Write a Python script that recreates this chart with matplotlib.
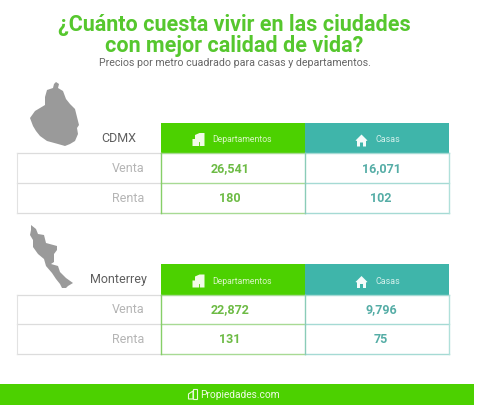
import matplotlib
matplotlib.use("Agg")
import matplotlib.pyplot as plt
from matplotlib.patches import Rectangle, Polygon

plt.rcParams['font.family'] = ['Roboto', 'DejaVu Sans']

title_lines = ["¿Cuánto cuesta vivir en las ciudades", "con mejor calidad de vida?"]
subtitle = "Precios por metro cuadrado para casas y departamentos."
cities = ["CDMX", "Monterrey"]
columns = ["Departamentos", "Casas"]
rows = ["Venta", "Renta"]
cdmx_values = ["26,541", "16,071", "180", "102"]
monterrey_values = ["22,872", "9,796", "131", "75"]
footer = "Propiedades.com"

GREEN = "#4cd100"
TEAL = "#3fb5aa"
TITLE_GREEN = "#56c72e"
VAL_GREEN = "#6dbb45"
VAL_TEAL = "#55ada6"
GRAY = "#9a9a9a"

cdmx_shape = [(56,82),(59,84),(58,88),(63,91),(66,99),(70,104),(75,109),(77,117),(79,125),(77,128),(78,134),(75,141),
              (70,144),(65,146),(58,144),(47,141),(40,136),(36,131),(33,126),(30,118),(35,111),(45,105),(45,97),(47,90),(53,88),(54,84)]
mty_shape = [(31,225),(36,229),(38,234),(44,235),(46,243),(57,246),(57,250),(54,254),(54,262),(51,264),(58,266),
             (60,272),(66,278),(73,283),(68,286),(66,288),(62,288),(60,284),(56,279),(52,273),(46,266),(44,259),
             (38,254),(33,247),(33,240),(30,235),(31,230)]

fig = plt.figure(figsize=(4.79, 4.05), dpi=100)
ax = fig.add_axes([0, 0, 1, 1])
ax.set_xlim(0, 479)
ax.set_ylim(405, 0)
ax.axis("off")

ax.text(234.5, 25, title_lines[0], ha="center", va="center", fontsize=15.5, fontweight="bold", color=TITLE_GREEN)
ax.text(234.5, 46, title_lines[1], ha="center", va="center", fontsize=15.5, fontweight="bold", color=TITLE_GREEN)
ax.text(234.5, 62.5, subtitle, ha="center", va="center", fontsize=7.7, color="#666666")


def building(x, y, c="#f2fbe8"):
    ax.add_patch(Polygon([(x, y + 13), (x, y + 6), (x + 2.5, y + 6), (x + 2.5, y + 2), (x + 7, y),
                          (x + 12, y), (x + 12, y + 13)], fc=c, ec="none"))
    ax.plot([x + 7, x + 7], [y + 9, y + 13], color=GREEN, lw=0.6)


def house(x, y, c="#f4fbfa"):
    ax.add_patch(Polygon([(x, y + 6), (x + 6, y), (x + 12, y + 6), (x + 10.5, y + 6.5), (x + 10.5, y + 12),
                          (x + 7.5, y + 12), (x + 7.5, y + 8), (x + 4.5, y + 8), (x + 4.5, y + 12),
                          (x + 1.5, y + 12), (x + 1.5, y + 6.5)], fc=c, ec="none"))


def table(top, city, values, city_x, city_y):
    y0, y1, y2, y3 = top, top + 30.5, top + 60, top + 90
    x0, x1, x2, x3 = 17.5, 161, 305, 449
    ax.add_patch(Rectangle((x1, y0), x2 - x1, y1 - y0, fc=GREEN, ec="none"))
    ax.add_patch(Rectangle((x2, y0), x3 - x2, y1 - y0, fc=TEAL, ec="none"))
    for y in (y1, y2, y3):
        ax.plot([x0, x1], [y, y], color="#dcdcdc", lw=0.9)
        ax.plot([x1, x2], [y, y], color="#a8da94", lw=1.0)
        ax.plot([x2, x3], [y, y], color="#a5dad4", lw=1.0)
    ax.plot([x0, x0], [y1, y3], color="#e2e2e2", lw=0.8)
    ax.plot([x1, x1], [y1, y3], color="#86cf68", lw=1.0)
    ax.plot([x2, x2], [y1, y3], color="#8accb8", lw=1.0)
    ax.plot([x3, x3], [y1, y3], color="#b0e0da", lw=1.0)
    ax.text(city_x, city_y, city, ha="right", va="center", fontsize=9, color="#5f5f5f")
    building(192.5, y0 + 10.5)
    ax.text(242.5, y0 + 17, columns[0], ha="center", va="center", fontsize=6.2, color="#d9f5c4")
    house(355.5, y0 + 12)
    ax.text(387.5, y0 + 17, columns[1], ha="center", va="center", fontsize=6.4, color="#d5f0ec")
    for i, (label, ya) in enumerate(zip(rows, ((y1 + y2) / 2, (y2 + y3) / 2))):
        ax.text(144.5, ya + 0.5, label, ha="right", va="center", fontsize=9, color="#b5b5b5")
        ax.text(230, ya + 0.5, values[2 * i], ha="center", va="center", fontsize=9, fontweight="bold", color=VAL_GREEN)
        ax.text(381, ya + 0.5, values[2 * i + 1], ha="center", va="center", fontsize=9, fontweight="bold", color=VAL_TEAL)


ax.add_patch(Polygon(cdmx_shape, fc=GRAY, ec="none"))
ax.add_patch(Polygon(mty_shape, fc=GRAY, ec="none"))
table(122.5, cities[0], cdmx_values, 136.5, 138)
table(264, cities[1], monterrey_values, 147, 280)

ax.add_patch(Rectangle((0, 384), 474, 21, fc=GREEN, ec="none"))
ax.add_patch(Polygon([(188.5, 399), (188.5, 394), (193, 391), (193, 399)], fc="none", ec="#e8f8dc", lw=0.8))
ax.add_patch(Rectangle((193.5, 388.5), 3.5, 10.5, fc="none", ec="#e8f8dc", lw=0.8))
ax.text(200, 395.5, footer, ha="left", va="center", fontsize=7.3, color="#eefae4")

fig.savefig("out.png", dpi=100)
